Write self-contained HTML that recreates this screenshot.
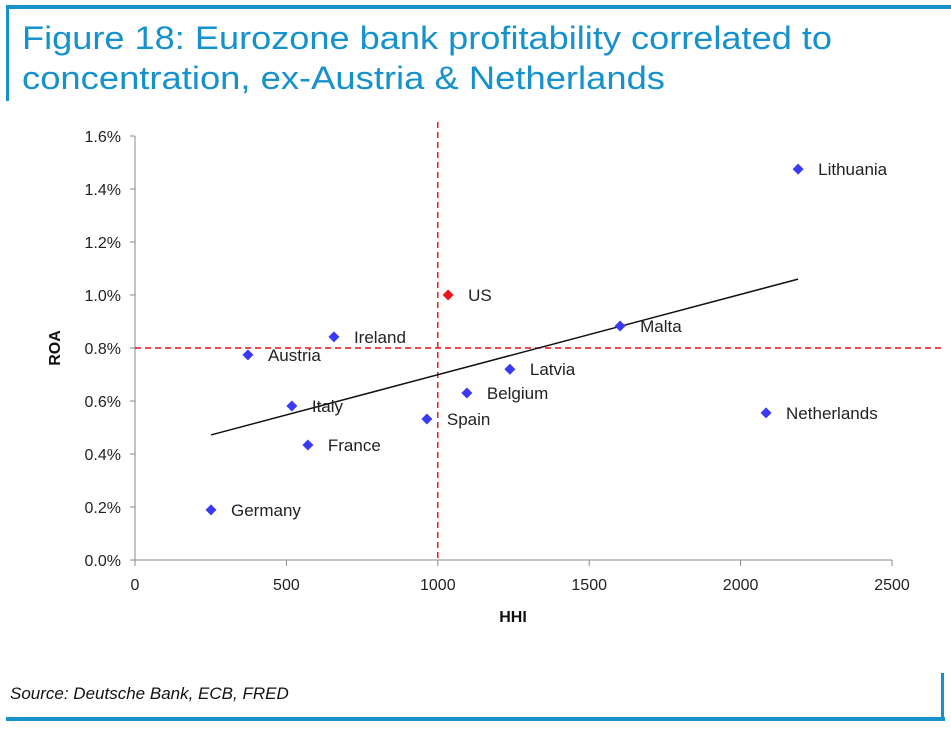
<!DOCTYPE html>
<html><head><meta charset="utf-8"><style>
body{margin:0;background:#fff;width:951px;height:731px;overflow:hidden;font-family:"Liberation Sans",sans-serif}
</style></head><body>
<svg id="c" width="951" height="731" xmlns="http://www.w3.org/2000/svg">
<rect x="6" y="5" width="945" height="4" fill="#1591cd"/>
<rect x="6" y="5" width="3" height="96" fill="#1591cd"/>
<text x="22" y="49" font-size="32" fill="#1591cd" textLength="810" lengthAdjust="spacingAndGlyphs">Figure 18: Eurozone bank profitability correlated to</text>
<text x="22" y="89" font-size="32" fill="#1591cd" textLength="643" lengthAdjust="spacingAndGlyphs">concentration, ex-Austria &amp; Netherlands</text>
<text x="10" y="699" font-size="17" font-style="italic" fill="#111">Source: Deutsche Bank, ECB, FRED</text>
<rect x="6" y="717" width="939" height="4" fill="#1591cd"/>
<rect x="941" y="673" width="3" height="48" fill="#1591cd"/>
<g id="plot"></g>
</svg>
<script>
const names=["Lithuania","US","Malta","Ireland","Austria","Latvia","Belgium","Italy","Spain","Netherlands","France","Germany"];
const hhi=[2190,1034,1602,657,373,1238,1096,518,964,2084,571,251];
const roa=[1.475,1.0,0.883,0.842,0.774,0.72,0.63,0.581,0.532,0.555,0.434,0.189];
const xTicks=[0,500,1000,1500,2000,2500];
const yTicks=[0,0.2,0.4,0.6,0.8,1.0,1.2,1.4,1.6];
const trendX=[251,2190];
const trendY=[0.472,1.06];
const refX=1000, refY=0.8;
const X=v=>135+v/2500*757, Y=v=>560-v/1.6*424;
const g=document.getElementById('plot'), NS="http://www.w3.org/2000/svg";
function mk(t,a,p){const e=document.createElementNS(NS,t);for(const k in a)e.setAttribute(k,a[k]);(p||g).appendChild(e);return e;}
let e;
e=mk('line',{x1:135,y1:136,x2:135,y2:560,stroke:'#888'});


e=mk('line',{x1:135,y1:560,x2:892,y2:560,stroke:'#888'});


yTicks.forEach(v=>{
 mk('line',{x1:130,y1:Y(v),x2:135,y2:Y(v),stroke:'#888'});
 e=mk('text',{x:121,y:Y(v)+6,'font-size':16,'text-anchor':'end',fill:'#222'});e.textContent=v.toFixed(1)+'%';
 
 
});
xTicks.forEach(v=>{
 mk('line',{x1:X(v),y1:560,x2:X(v),y2:566,stroke:'#888'});
 e=mk('text',{x:X(v),y:590,'font-size':16,'text-anchor':'middle',fill:'#222'});e.textContent=v;
 
 
});
e=mk('text',{x:513,y:622,'font-size':16,'font-weight':'bold','text-anchor':'middle',fill:'#111'});e.textContent='HHI';


e=mk('text',{x:0,y:0,'font-size':16,'font-weight':'bold','text-anchor':'middle',fill:'#111',transform:'translate(60,348) rotate(-90)'});e.textContent='ROA';


e=mk('line',{x1:X(refX),y1:122,x2:X(refX),y2:560,stroke:'#e81010','stroke-width':1.4,'stroke-dasharray':'6,4'});


e=mk('line',{x1:135,y1:Y(refY),x2:945,y2:Y(refY),stroke:'#e81010','stroke-width':1.4,'stroke-dasharray':'6,4'});


e=mk('line',{x1:X(trendX[0]),y1:Y(trendY[0]),x2:X(trendX[1]),y2:Y(trendY[1]),stroke:'#111','stroke-width':1.5});


names.forEach((n,i)=>{
 const cx=X(hhi[i]),cy=Y(roa[i]);
 e=mk('path',{d:`M${cx},${cy-5.5}L${cx+5.5},${cy}L${cx},${cy+5.5}L${cx-5.5},${cy}Z`,fill:n==='US'?'#e8161b':'#3a3af5'});
 
 
 e=mk('text',{x:cx+20,y:cy+6,'font-size':17,fill:'#222'});e.textContent=n;
 
 
});
</script>
</body></html>
